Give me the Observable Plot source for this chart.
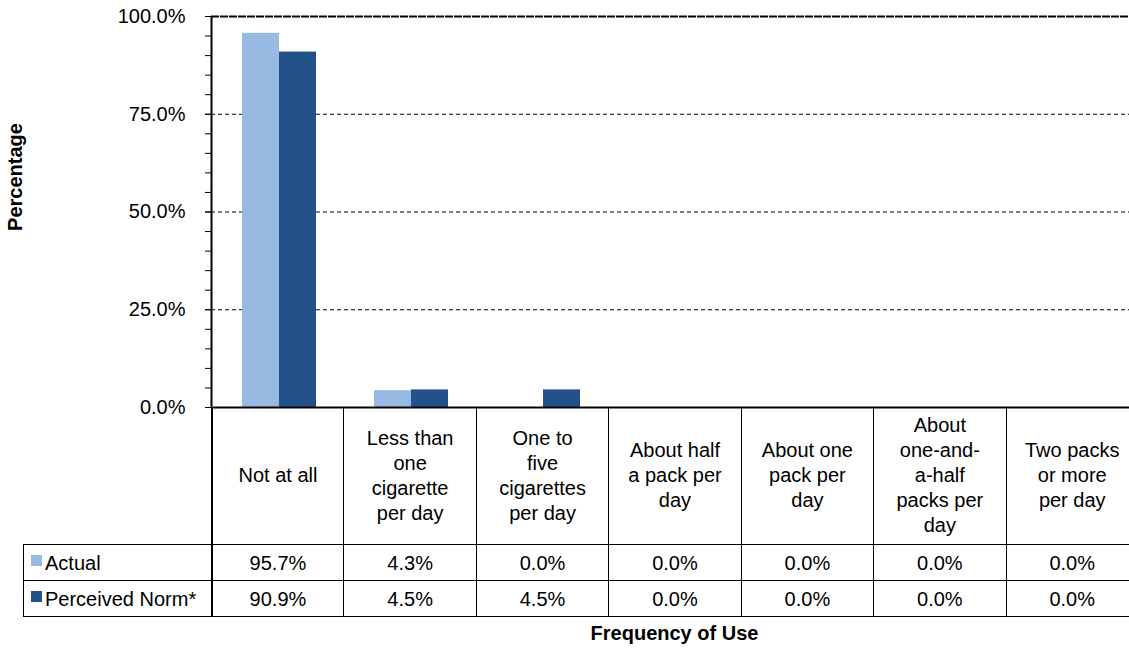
<!DOCTYPE html>
<html>
<head>
<meta charset="utf-8">
<script src="https://cdn.jsdelivr.net/npm/d3@7"></script>
<script src="https://cdn.jsdelivr.net/npm/@observablehq/plot@0.6"></script>
<style>
html, body { margin: 0; padding: 0; background: #fff; overflow: hidden; }
#chart { position: relative; width: 1129px; height: 648px; overflow: hidden; font-family: "Liberation Sans", Arial, sans-serif; color: #000; }
#table { position: absolute; left: 23px; top: 407px; border-collapse: collapse; table-layout: fixed; font-size: 20px; width: 1115px; }
#table td { padding: 0; text-align: center; vertical-align: middle; border: 1px solid #000; white-space: pre-line; }
#table tr.head td { height: 137px; line-height: 25px; border-top: none; }
#table tr.row td { height: 35px; line-height: 22px; }
#table td.corner { border-left: none; border-top: none; }
#table td.first { border-right: 2px solid #000; }
#table td.lab { text-align: left; padding-left: 7px; }
.sw { display: inline-block; width: 11px; height: 11px; margin-right: 3px; vertical-align: 4px; }
#xlabel { position: absolute; left: 211px; width: 927px; top: 622px; text-align: center; font-weight: bold; font-size: 20px; line-height: 22px; }
</style>
</head>
<body>
<div id="chart"></div>
<script>
// ---- data ----
const categories = [
  "Not at all",
  "Less than one cigarette per day",
  "One to five cigarettes per day",
  "About half a pack per day",
  "About one pack per day",
  "About one-and-a-half packs per day",
  "Two packs or more per day"
];
const categoryLabels = [
  "Not at all",
  "Less than\none\ncigarette\nper day",
  "One to\nfive\ncigarettes\nper day",
  "About half\na pack per\nday",
  "About one\npack per\nday",
  "About\none-and-\na-half\npacks per\nday",
  "Two packs\nor more\nper day"
];
const series = ["Actual", "Perceived Norm*"];
const actual = [95.7, 4.3, 0.0, 0.0, 0.0, 0.0, 0.0];
const perceived = [90.9, 4.5, 4.5, 0.0, 0.0, 0.0, 0.0];
const colors = ["#97B9E2", "#23528A"];
const yTicks = [0, 25, 50, 75, 100];
const minorTicks = [0, 5, 10, 15, 20, 25, 30, 35, 40, 45, 50, 55, 60, 65, 70, 75, 80, 85, 90, 95, 100];
const gridTicks = [25, 50, 75];
const yLabel = "Percentage";
const xLabel = "Frequency of Use";

const fmt = d => d.toFixed(1) + "%";
const seriesValues = [actual, perceived];

const barData = categories.flatMap((c, i) =>
  series.map((s, j) => ({category: c, series: s, value: seriesValues[j][i]}))
);

const chart = document.getElementById("chart");
const W = 1140, H = 409;
const common = {width: W, height: H, marginLeft: 211, marginRight: 2, marginTop: 16, marginBottom: 2};
const svgStyle = {background: "transparent", maxWidth: "none", overflow: "visible", position: "absolute", left: "0px", top: "0px", fontFamily: "'Liberation Sans', Arial, sans-serif", color: "#000"};

// back layer: gridlines, y axis
const back = Plot.plot({
  ...common,
  style: svgStyle,
  x: {domain: [0, 1], axis: null},
  y: {domain: [0, 100]},
  marks: [
    Plot.ruleY(gridTicks, {stroke: "#000", strokeWidth: 1, strokeDasharray: "4,3"}),
    Plot.ruleY([100], {stroke: "#000", strokeWidth: 2, strokeDasharray: "8,1"}),
    Plot.axisY(minorTicks, {tickSize: 6, tickFormat: () => "", label: null, stroke: "#000"}),
    Plot.axisY(yTicks, {tickSize: 6, tickPadding: 20, tickFormat: fmt, label: null, fontSize: 20, fill: "#000", stroke: "#000"}),
    Plot.ruleX([0], {stroke: "#000", strokeWidth: 2}),
    Plot.text([yLabel], {text: d => d, frameAnchor: "left", textAnchor: "middle", rotate: -90, dx: -196, dy: -35, fontWeight: "bold", fontSize: 20, fill: "#000"})
  ]
});

// front layer: grouped bars via facets
const front = Plot.plot({
  ...common,
  style: svgStyle,
  fx: {domain: categories, padding: 0, axis: null},
  x: {domain: series, paddingInner: 0, paddingOuter: 0.75, axis: null},
  y: {domain: [0, 100], axis: null},
  color: {domain: series, range: colors},
  marks: [
    Plot.barY(barData, {fx: "category", x: "series", y: "value", fill: "series"}),
    Plot.ruleY([0], {stroke: "#000", strokeWidth: 2})
  ]
});

chart.appendChild(back);
chart.appendChild(front);

// data table below the chart
const table = document.createElement("table");
table.id = "table";
const colgroup = document.createElement("colgroup");
const c0 = document.createElement("col"); c0.style.width = "188px"; colgroup.appendChild(c0);
categories.forEach(() => { const c = document.createElement("col"); c.style.width = (927 / categories.length) + "px"; colgroup.appendChild(c); });
table.appendChild(colgroup);

const head = document.createElement("tr"); head.className = "head";
const corner = document.createElement("td"); corner.className = "corner first"; head.appendChild(corner);
categoryLabels.forEach(l => { const td = document.createElement("td"); td.textContent = l; head.appendChild(td); });
table.appendChild(head);

series.forEach((s, j) => {
  const tr = document.createElement("tr"); tr.className = "row";
  const lab = document.createElement("td"); lab.className = "first lab";
  const sw = document.createElement("span"); sw.className = "sw"; sw.style.background = colors[j];
  lab.appendChild(sw); lab.appendChild(document.createTextNode(s));
  tr.appendChild(lab);
  seriesValues[j].forEach(v => { const td = document.createElement("td"); td.textContent = fmt(v); tr.appendChild(td); });
  table.appendChild(tr);
});
chart.appendChild(table);

const xl = document.createElement("div");
xl.id = "xlabel"; xl.textContent = xLabel;
chart.appendChild(xl);
</script>
</body>
</html>
